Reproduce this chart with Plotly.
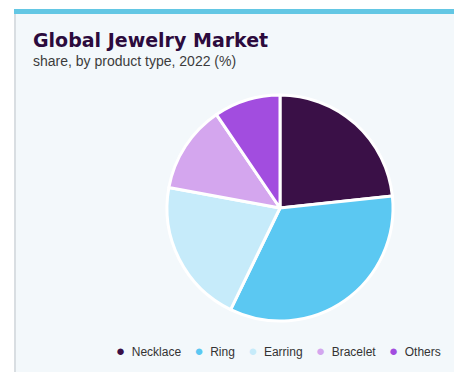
import plotly.graph_objects as go

# Product-type shares of the global jewelry market, 2022 (%)
categories = ["Necklace", "Ring", "Earring", "Bracelet", "Others"]
shares = [23.3, 33.9, 20.7, 12.6, 9.5]
colors = ["#3a1047", "#5bc8f2", "#c6ebfa", "#d4a6ee", "#a24ddf"]

title_text = "Global Jewelry Market"
subtitle_text = "share, by product type, 2022 (%)"

W, H = 454, 372


def px_x(x):
    return x / W


def px_y(y):
    return 1 - y / H


fig = go.Figure()

# Pie centred near (280, 208) px with a ~113 px radius
cx, cy, r = 280, 208, 113
fig.add_trace(go.Pie(
    labels=categories,
    values=shares,
    marker=dict(colors=colors, line=dict(color="white", width=3)),
    sort=False,
    direction="clockwise",
    rotation=0,
    textinfo="none",
    hoverinfo="label+percent",
    showlegend=False,
    domain=dict(x=[px_x(cx - r), px_x(cx + r)], y=[px_y(cy + r), px_y(cy - r)]),
))

# Custom inline legend: coloured dots followed by the category names
gap = "\u00a0" * 4
legend_html = gap.join(
    f"<span style='color:{c};font-size:15px'>\u25cf</span>\u00a0\u00a0{name}"
    for name, c in zip(categories, colors)
)

shapes = [
    # light card behind the chart
    dict(type="rect", xref="paper", yref="paper", x0=px_x(14), x1=1,
         y0=0, y1=px_y(14), fillcolor="#f3f8fb", line=dict(width=0), layer="below"),
    # thin left border of the card
    dict(type="line", xref="paper", yref="paper", x0=px_x(15), x1=px_x(15),
         y0=0, y1=px_y(14), line=dict(color="#d9dee2", width=2), layer="below"),
    # accent bar along the top
    dict(type="rect", xref="paper", yref="paper", x0=px_x(14), x1=1,
         y0=px_y(14), y1=px_y(9), fillcolor="#63c7e4", line=dict(width=0), layer="below"),
]

annotations = [
    dict(text=f"<b>{title_text}</b>", xref="paper", yref="paper",
         x=px_x(31), y=px_y(27), xanchor="left", yanchor="top", showarrow=False,
         font=dict(family="DejaVu Sans", size=19, color="#2c0b3d")),
    dict(text=subtitle_text, xref="paper", yref="paper",
         x=px_x(31), y=px_y(51), xanchor="left", yanchor="top", showarrow=False,
         font=dict(family="Liberation Sans", size=14, color="#3c3c3c")),
    dict(text=legend_html, xref="paper", yref="paper",
         x=px_x(443), y=px_y(350), xanchor="right", yanchor="middle", showarrow=False,
         font=dict(family="Liberation Sans", size=12, color="#333333")),
]

fig.update_layout(
    width=W, height=H,
    margin=dict(l=0, r=0, t=0, b=0),
    paper_bgcolor="white",
    plot_bgcolor="white",
    shapes=shapes,
    annotations=annotations,
    showlegend=False,
)

fig.write_html("out.html")
